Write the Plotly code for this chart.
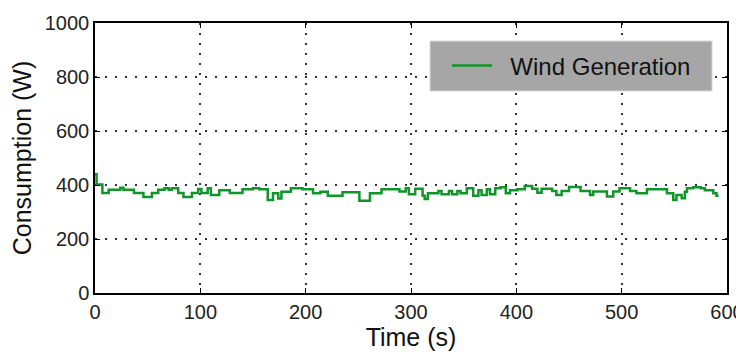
import plotly.graph_objects as go

# Step change times (s) and wind generation levels (W)
step_times = [0, 1.5, 7, 13, 24, 27, 37, 46, 54, 60, 66, 70, 73, 79, 84, 92, 98,
              101, 107, 110, 118, 128, 140, 150, 156, 164, 169, 174, 177, 186, 197,
              207, 214, 221, 235, 251, 261, 272, 289, 295, 298, 304, 311, 313, 316,
              326, 329, 336, 339, 344, 347, 353, 359, 364, 367, 372, 375, 380, 385,
              390, 394, 401, 408, 415, 420, 424, 434, 438, 443, 450, 461, 470, 473,
              486, 492, 498, 508, 514, 524, 543, 549, 552, 557, 560, 562, 568, 575,
              579, 587, 590, 592]
step_values = [440, 402, 370, 382, 390, 382, 370, 356, 370, 382, 388, 382, 388, 370, 356, 370, 385,
               370, 388, 363, 381, 370, 384, 388, 384, 344, 369, 350, 375, 388, 384,
               369, 375, 360, 373, 342, 369, 384, 376, 388, 366, 386, 360, 348, 369,
               378, 366, 378, 366, 378, 369, 388, 360, 381, 363, 384, 366, 388, 392,
               369, 381, 384, 396, 386, 371, 386, 378, 363, 378, 393, 378, 363, 376,
               357, 376, 388, 378, 369, 384, 369, 344, 363, 351, 375, 388, 392, 388,
               381, 369, 360, 360]

x_ticks = [0, 100, 200, 300, 400, 500, 600]
y_ticks = [0, 200, 400, 600, 800, 1000]
series_name = "Wind Generation"

fig = go.Figure()
fig.add_trace(go.Scatter(
    x=step_times, y=step_values, mode="lines",
    name="\u00a0\u00a0" + series_name,
    line=dict(color="#109628", width=2.5, shape="hv"),
))

font_family = "Liberation Sans, Arial, sans-serif"
axis_common = dict(
    showline=True, linecolor="black", linewidth=1.5, mirror="ticks",
    ticks="inside", ticklen=5, tickwidth=1, tickcolor="black",
    showgrid=True, gridcolor="#333333", gridwidth=1.5, griddash="2px,8px",
    zeroline=False, automargin=False, ticklabeloverflow="allow",
    tickfont=dict(size=20, color="#222", family=font_family),
)

# page body has an 8px default margin, so the figure is sized 8px smaller
fig.update_layout(
    width=736, height=350,
    margin=dict(l=87, r=17, t=15, b=65),
    paper_bgcolor="white", plot_bgcolor="white",
    font=dict(family=font_family, color="#111"),
    showlegend=True,
    legend=dict(x=0.557, y=0.8407, xanchor="left", yanchor="middle",
                bgcolor="rgba(0,0,0,0)", borderwidth=0,
                font=dict(size=24, color="#111", family=font_family),
                itemwidth=40),
    shapes=[dict(type="rect", xref="paper", yref="paper",
                 x0=0.5301, x1=0.9763, y0=0.7481, y1=0.9333,
                 fillcolor="#a6a6a6", line=dict(color="#d9d9d9", width=1),
                 layer="above")],
)
fig.update_xaxes(range=[0, 600], tickvals=x_ticks,
                 title=dict(text="Time (s)", font=dict(size=25), standoff=6),
                 **axis_common)
fig.update_yaxes(range=[0, 1000], tickvals=y_ticks,
                 title=dict(text="Consumption (W)", font=dict(size=25), standoff=6),
                 **axis_common)

fig.write_html("out.html")
